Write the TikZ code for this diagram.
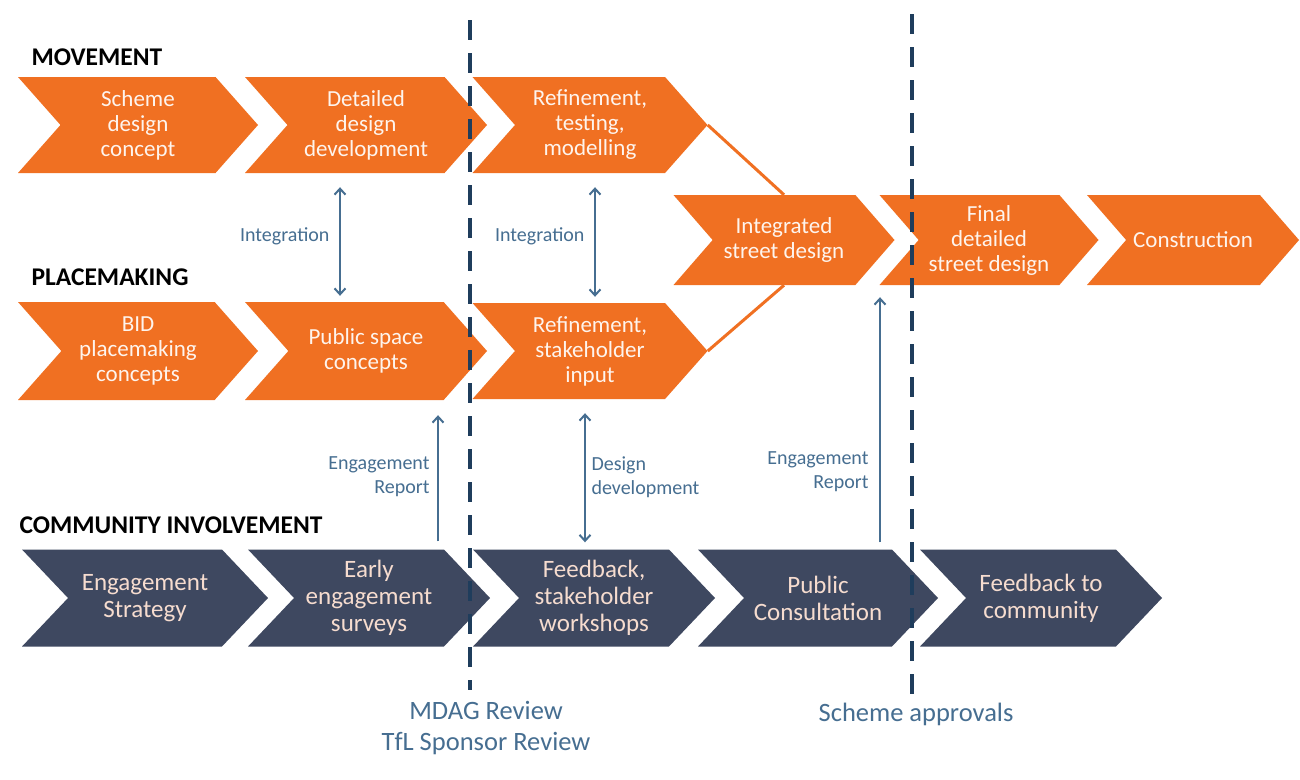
\documentclass[tikz,border=0pt]{standalone}
\usepackage{fontspec}
\setmainfont{Carlito}
\usetikzlibrary{shapes.symbols}
\usetikzlibrary{positioning}
\usetikzlibrary{arrows.meta}
\definecolor{chevorange}{HTML}{F07022}
\definecolor{chevnavy}{HTML}{3E4860}
\definecolor{linkblue}{HTML}{466E91}
\definecolor{gateblue}{HTML}{1F3D5C}
\definecolor{peach}{HTML}{F6DCCF}
\tikzset{
    chevo/.style = {signal, signal from=west, signal to=east, signal pointer angle=97, fill=chevorange, text=white!92!chevorange, align=center, inner sep=0pt, font=\fontsize{23}{25}\selectfont},
    chevi/.style = {chevo, signal pointer angle=98},
    chevn/.style = {signal, signal from=west, signal to=east, signal pointer angle=93, fill=chevnavy, text=peach, align=center, inner sep=0pt, font=\fontsize{25}{27}\selectfont},
    header/.style = {anchor=west, font=\fontsize{25.5}{28}\selectfont\bfseries},
    linklabel/.style = {text=linkblue, font=\fontsize{20}{24}\selectfont},
    gatelabel/.style = {text=linkblue, font=\fontsize{26.5}{31}\selectfont},
    link/.style = {-{Straight Barb[length=6pt,width=11pt]}, line width=2pt, draw=linkblue},
    linkd/.style = {{Straight Barb[length=6pt,width=11pt]}-{Straight Barb[length=6pt,width=11pt]}, line width=2pt, draw=linkblue},
    merge/.style = {line width=3pt, draw=chevorange},
    gate/.style = {line width=4pt, draw=gateblue, dash pattern=on 20pt off 13pt}
}

\begin{document}
\begin{tikzpicture}[x=1pt,y=-1pt]
\useasboundingbox[fill=white] (0,0) rectangle (1300,779);
% headers
\node[header] at (28,57) (hmov) {MOVEMENT};
\node[header] at (28,277) (hplace) {PLACEMAKING};
\node[header] at (16,525) (hcomm) {COMMUNITY INVOLVEMENT};
% movement
\node[chevo, minimum width=240, minimum height=96] at (138,125) (m1) {Scheme\\design\\concept};
\node[chevo, minimum width=242, minimum height=96] at (366,125) (m2) {Detailed\\design\\development};
\node[chevo, minimum width=235, minimum height=96] at (590,125) (m3) {Refinement,\\testing,\\modelling};
% placemaking
\node[chevo, minimum width=240, minimum height=98] at (138,351) (p1) {BID\\placemaking\\concepts};
\node[chevo, minimum width=242, minimum height=98] at (366,351) (p2) {Public space\\concepts};
\node[chevo, minimum width=235, minimum height=96] at (590,351) (p3) {Refinement,\\stakeholder\\input};
% integrated
\node[chevi, minimum width=221, minimum height=90] at (784,240) (s1) {Integrated\\street design};
\node[chevi, minimum width=219, minimum height=90] at (989,240) (s2) {Final\\detailed\\street design};
\node[chevi, minimum width=212, minimum height=90] at (1193,240) (s3) {Construction};
\draw[merge] (m3.east) -- (s1.north);
\draw[merge] (p3.east) -- (s1.south);
% community
\node[chevn, minimum width=246, minimum height=97] at (145,598) (c1) {Engagement\\Strategy};
\node[chevn, minimum width=242, minimum height=97] at (369,598) (c2) {Early\\engagement\\surveys};
\node[chevn, minimum width=242, minimum height=97] at (594,598) (c3) {Feedback,\\stakeholder\\workshops};
\node[chevn, minimum width=240, minimum height=97] at (818,598) (c4) {Public\\Consultation};
\node[chevn, minimum width=242, minimum height=97] at (1041,598) (c5) {Feedback to\\community};
% review gates
\coordinate (g1t) at (470,20);
\coordinate (g1b) at (470,690);
\coordinate (g2t) at (912,14);
\coordinate (g2b) at (912,700);
\draw[gate] (g1t) -- (g1b);
\draw[gate] (g2t) -- (g2b);
\node[gatelabel, align=center] at (486,728) (gl1) {MDAG Review\\TfL Sponsor Review};
\node[gatelabel] at (916,714) (gl2) {Scheme approvals};
% links
\coordinate (ax1) at (340,0);
\coordinate (ax2) at (595,0);
\coordinate (ax3) at (438,0);
\coordinate (ax4) at (585,0);
\coordinate (ax5) at (880,0);
\draw[linkd, shorten <=14pt, shorten >=6pt] (m2.south -| ax1) -- (p2.north -| ax1);
\draw[linkd, shorten <=14pt, shorten >=6pt] (m3.south -| ax2) -- (p3.north -| ax2);
\draw[link, shorten <=8pt, shorten >=15pt] (c2.north -| ax3) -- (p2.south -| ax3);
\draw[linkd, shorten <=14pt, shorten >=7pt] (p3.south -| ax4) -- (c3.north -| ax4);
\draw[link, shorten <=7pt, shorten >=12pt] (c4.north -| ax5) -- (s1.south -| ax5);
\node[linklabel, anchor=east] at (333,236) (lint1) {Integration};
\node[linklabel, anchor=east] at (588,236) (lint2) {Integration};
\node[linklabel, anchor=east, align=right] at (433,477) (leng1) {Engagement\\Report};
\node[linklabel, anchor=west, align=left] at (588,477) (ldes) {Design\\development};
\node[linklabel, anchor=east, align=right] at (872,472) (leng2) {Engagement\\Report};
\end{tikzpicture}
\end{document}
